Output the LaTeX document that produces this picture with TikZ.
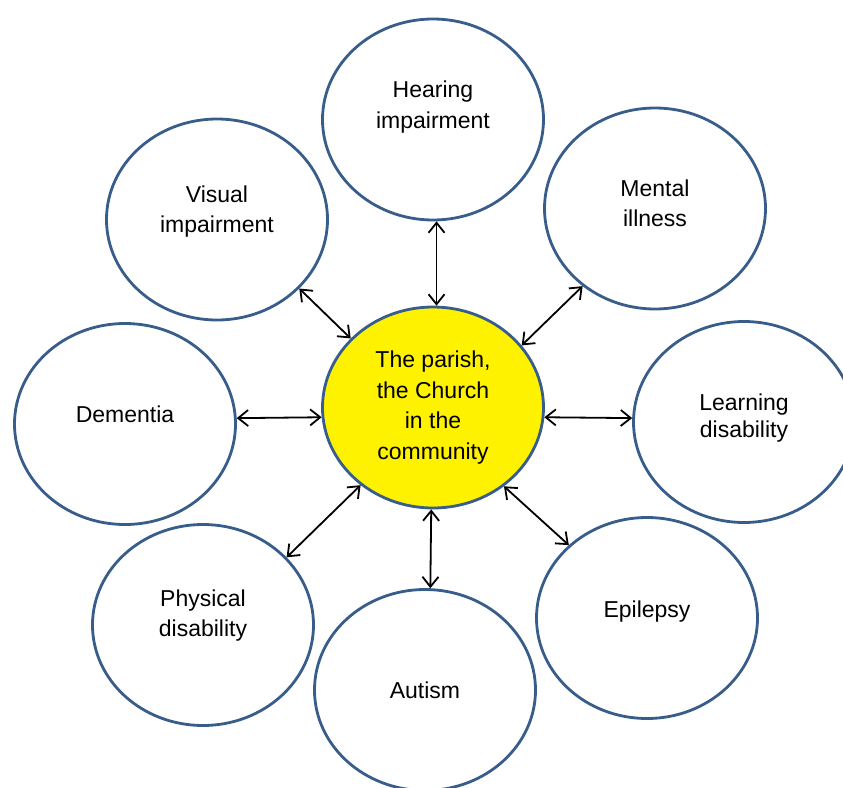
\documentclass[tikz,border=0pt]{standalone}
\usepackage{fontspec}
\setmainfont{Liberation Sans}
\usetikzlibrary{shapes.geometric,arrows.meta}
\definecolor{rim}{RGB}{56,93,138}
\begin{document}
\begin{tikzpicture}[x=1pt,y=-1pt,
  bubble/.style={ellipse, draw=rim, line width=2.8pt, minimum width=221pt,
    minimum height=201pt, inner sep=0pt},
  hub/.style={bubble, fill=yellow},
  lbl/.style={align=center, font=\fontsize{23}{30.5}\selectfont, text=black, inner sep=0pt},
  tip/.tip={Straight Barb[length=10pt,width=16pt]},
  link/.style={black, line width=1.8pt, tip-tip}]
\useasboundingbox (0,0) rectangle (843,787);
\clip (0,0) rectangle (843,787);

% central hub
\node[hub] (ctr) at (433,407.5)
  [label={[lbl,name=ctr-t]center:{The parish,\\the Church\\in the\\community}}] {};

% surrounding topics
\node[bubble] (hear) at (433,119.5)
  [label={[lbl,yshift=12.5pt,name=hear-t]center:{Hearing\\impairment}}] {};
\node[bubble] (vis) at (217,219.5)
  [label={[lbl,yshift=8pt,name=vis-t]center:{Visual\\impairment}}] {};
\node[bubble] (ment) at (655,208.5)
  [label={[lbl,yshift=5pt,name=ment-t]center:{Mental\\illness}}] {};
\node[bubble] (dem) at (125,424)
  [label={[lbl,yshift=10pt,name=dem-t]center:{Dementia}}] {};
\node[bubble] (learn) at (744,422)
  [label={[lbl,yshift=4pt,font=\fontsize{23}{27}\selectfont,name=learn-t]center:{Learning\\disability}}] {};
\node[bubble] (phys) at (203,625)
  [label={[lbl,yshift=9.5pt,name=phys-t]center:{Physical\\disability}}] {};
\node[bubble] (epi) at (647,618)
  [label={[lbl,yshift=6pt,name=epi-t]center:{Epilepsy}}] {};
\node[bubble] (aut) at (425,690)
  [label={[lbl,name=aut-t]center:{Autism}}] {};

% two-way links to the hub
\draw[link] (hear.-88) -- (ctr.88);
\draw[link] (vis.-40.4) -- (ctr.140.2);
\draw[link] (ment.227.6) -- (ctr.35.2);
\draw[link] (dem.3) -- (ctr.185.6);
\draw[link] (ctr.-5.6) -- (learn.178);
\draw[link] (phys.39.4) -- (ctr.227.7);
\draw[link] (ctr.-48.7) -- (epi.137.9);
\draw[link] (ctr.-91.7) -- (aut.87.2);
\end{tikzpicture}
\end{document}
